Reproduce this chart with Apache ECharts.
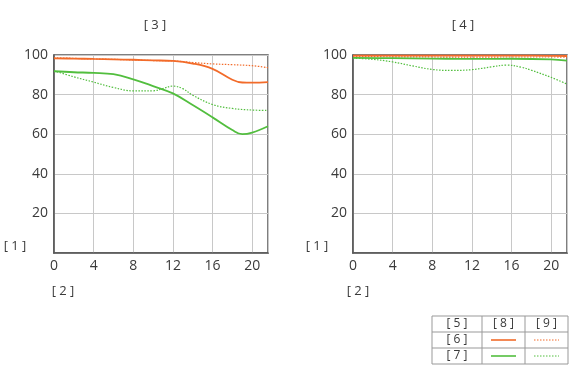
<!DOCTYPE html>
<html><head><meta charset="utf-8">
<script src="https://cdn.jsdelivr.net/npm/echarts@6/dist/echarts.min.js"></script>
<style>html,body{margin:0;padding:0;background:#fff}#c{width:573px;height:382px}</style>
</head><body><div id="c"></div>
<script>
// Left chart [3]
const xL = [0, 2, 4, 6, 8, 10, 12, 14, 16, 18, 19, 20, 21.6];
const orangeSolidL = [98.3, 98.2, 98.0, 97.8, 97.6, 97.3, 97.0, 95.7, 93.0, 87.5, 86.1, 86.0, 86.3];
const xLd = [0, 2, 4, 6, 8, 10, 12, 14, 16, 18, 20, 21.6];
const orangeDotL = [98.6, 98.3, 98.0, 97.8, 97.5, 97.2, 97.0, 96.2, 95.5, 95.1, 94.6, 93.6];
const xG = [0, 2, 4, 6, 8, 10, 12, 14, 16, 18, 19, 20, 21.6];
const greenSolidL = [91.8, 91.3, 91.0, 90.3, 87.7, 84.3, 80.6, 74.7, 68.5, 62.1, 60.0, 60.8, 64.0];
const xGd = [0, 2, 4, 6, 8, 10, 11, 12, 13, 14, 16, 18, 20, 21.6];
const greenDotL = [92.0, 89.0, 86.3, 83.6, 81.9, 81.9, 83.1, 84.3, 83.0, 79.7, 75.0, 73.0, 72.2, 72.0];
// Right chart [4]
const xR = [0, 4, 8, 12, 16, 20, 21.6];
const orangeSolidR = [99.7, 99.7, 99.7, 99.7, 99.7, 99.6, 99.5];
const orangeDotR = [99.2, 99.1, 99.0, 98.9, 99.0, 99.0, 98.9];
const greenSolidR = [98.5, 98.4, 98.2, 98.0, 98.1, 97.8, 97.2];
const xRd = [0, 2, 4, 6, 8, 10, 12, 14, 15.5, 17, 18, 20, 21.6];
const greenDotR = [98.4, 97.8, 96.5, 94.5, 92.7, 92.2, 92.6, 94.0, 94.9, 93.8, 92.3, 88.7, 85.3];

const titles = ['[ 3 ]', '[ 4 ]'];
const yName = '[ 1 ]', xName = '[ 2 ]';
const legendHead = ['[ 5 ]', '[ 8 ]', '[ 9 ]'];
const legendRows = ['[ 6 ]', '[ 7 ]'];

const ORANGE = '#F26B2A', GREEN = '#52BE3E';
const FONT = 'Open Sans';
const pair = (xs, ys) => xs.map((x, i) => [x, ys[i]]);

const chart = echarts.init(document.getElementById('c'));
const grids = [
  {left: 54, top: 55, width: 214, height: 198},
  {left: 353, top: 55, width: 214, height: 198}
];
function xa(i) {
  return {gridIndex: i, type: 'value', min: 0, max: 21.6, interval: 4,
    axisLine: {show: true, lineStyle: {color: '#555', width: 1.5}},
    axisTick: {show: false},
    splitLine: {show: true, lineStyle: {color: '#c8c8c8', width: 1}},
    axisLabel: {color: '#3a3a3a', fontSize: 14, fontFamily: FONT, margin: 6, showMaxLabel: false,
      formatter: v => (v % 4 === 0 ? String(v) : '')}};
}
function ya(i) {
  return {gridIndex: i, type: 'value', min: 0, max: 100, interval: 20,
    axisLine: {show: true, lineStyle: {color: '#555', width: 1.5}},
    axisTick: {show: false},
    splitLine: {show: true, lineStyle: {color: '#c8c8c8', width: 1}},
    axisLabel: {color: '#3a3a3a', fontSize: 14, fontFamily: FONT, margin: 6,
      formatter: v => (v === 0 ? '' : String(v))}};
}
function line(i, data, color, dotted) {
  return {type: 'line', xAxisIndex: i, yAxisIndex: i, data: data, smooth: 0.4,
    showSymbol: false, symbol: 'none', z: dotted ? 3 : 4,
    lineStyle: {color: color, width: dotted ? 1.2 : 1.8, type: dotted ? [1.5, 1.5] : 'solid'}};
}
const txt = (x, y, t) => ({type: 'text', x: x, y: y,
  style: {text: t, fill: '#3a3a3a', font: '13px "' + FONT + '"', align: 'center', verticalAlign: 'middle'}});

const graphics = [
  txt(155, 25, titles[0]), txt(463, 25, titles[1]),
  txt(15, 246, yName), txt(317, 246, yName),
  txt(63, 291, xName), txt(358, 291, xName)
];
// legend table
const tx = [432, 482, 525, 568], ty = [316, 332, 348, 364];
graphics.push({type: 'rect', shape: {x: tx[0], y: ty[0], width: tx[3] - tx[0], height: ty[3] - ty[0]},
  style: {fill: 'none', stroke: '#999', lineWidth: 1}});
[tx[1], tx[2]].forEach(x => graphics.push({type: 'line', shape: {x1: x, y1: ty[0], x2: x, y2: ty[3]}, style: {stroke: '#999', lineWidth: 1}}));
[ty[1], ty[2]].forEach(y => graphics.push({type: 'line', shape: {x1: tx[0], y1: y, x2: tx[3], y2: y}, style: {stroke: '#999', lineWidth: 1}}));
legendHead.forEach((t, i) => graphics.push({type: 'text', x: (tx[i] + tx[i + 1]) / 2, y: ty[0] + 8,
  style: {text: t, fill: '#3a3a3a', font: '12px "' + FONT + '"', align: 'center', verticalAlign: 'middle'}}));
legendRows.forEach((t, r) => {
  graphics.push({type: 'text', x: (tx[0] + tx[1]) / 2, y: ty[r + 1] + 8,
    style: {text: t, fill: '#3a3a3a', font: '12px "' + FONT + '"', align: 'center', verticalAlign: 'middle'}});
  const c = r === 0 ? ORANGE : GREEN;
  graphics.push({type: 'line', shape: {x1: 491, y1: ty[r + 1] + 8, x2: 516, y2: ty[r + 1] + 8}, style: {stroke: c, lineWidth: 1.6}});
  graphics.push({type: 'line', shape: {x1: 534, y1: ty[r + 1] + 8, x2: 559, y2: ty[r + 1] + 8}, style: {stroke: c, lineWidth: 1, lineDash: [1.5, 1.5]}});
});

chart.setOption({
  animation: false,
  backgroundColor: '#fff',
  grid: grids.map(g => Object.assign({show: true, borderColor: '#555', borderWidth: 1.5, backgroundColor: 'transparent'}, g)),
  xAxis: [xa(0), xa(1)],
  yAxis: [ya(0), ya(1)],
  series: [
    line(0, pair(xLd, orangeDotL), ORANGE, true),
    line(0, pair(xGd, greenDotL), GREEN, true),
    line(0, pair(xL, orangeSolidL), ORANGE, false),
    line(0, pair(xG, greenSolidL), GREEN, false),
    line(1, pair(xRd, greenDotR), GREEN, true),
    line(1, pair(xR, orangeDotR), ORANGE, true),
    line(1, pair(xR, greenSolidR), GREEN, false),
    line(1, pair(xR, orangeSolidR), ORANGE, false)
  ],
  graphic: graphics
});
</script></body></html>
